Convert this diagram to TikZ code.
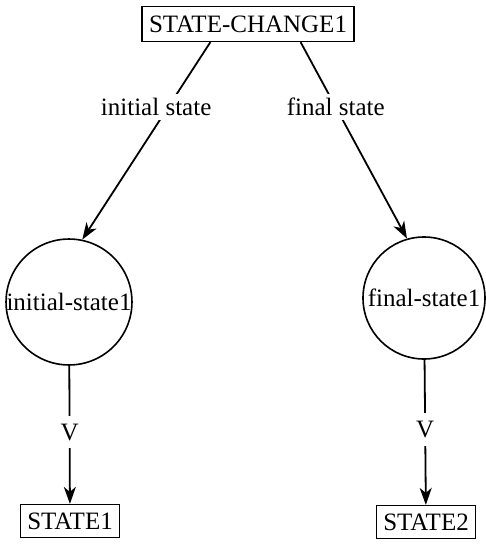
\documentclass[tikz,border=0pt]{standalone}
\usepackage{fontspec}
\setmainfont{Liberation Serif}
\usetikzlibrary{arrows.meta}

\begin{document}
\begin{tikzpicture}[x=0.5pt,y=-0.5pt,
    font=\fontsize{12.5}{14}\selectfont,
    concept/.style={draw,line width=0.6pt,inner xsep=3.5pt,minimum height=16.5pt},
    stateball/.style={draw,circle,line width=0.8pt,minimum size=61pt,inner sep=0pt},
    rel/.style={line width=0.9pt,-{Stealth[length=8.5pt,width=6pt,inset=2.5pt]}},
    lbl/.style={fill=white,inner sep=2pt}]
\useasboundingbox (0,0) rectangle (486,546);
\node [concept, minimum height=17.5pt] (change) at (248,24) {STATE-CHANGE1};
\node [stateball] (init) at (69,302) {initial-state1};
\node [stateball] (final) at (424,298) {final-state1};
\node [concept] (s1) at (70,521) {STATE1};
\node [concept] (s2) at (426,522) {STATE2};
\draw [rel] (change.south west) ++(69,0) coordinate (c_1) -- (init.78)
    node [lbl, pos=0.33, xshift=-6pt] {initial state};
\draw [rel] (change.south east) ++(-54,0) coordinate (c_2) -- (final.106)
    node [lbl, pos=0.33] {final state};
\draw [rel] (init) -- (s1) node [lbl, pos=0.48, inner ysep=4pt] {V};
\draw [rel] (final) -- (s2) node [lbl, pos=0.48, inner ysep=4pt] {V};
\end{tikzpicture}
\end{document}
